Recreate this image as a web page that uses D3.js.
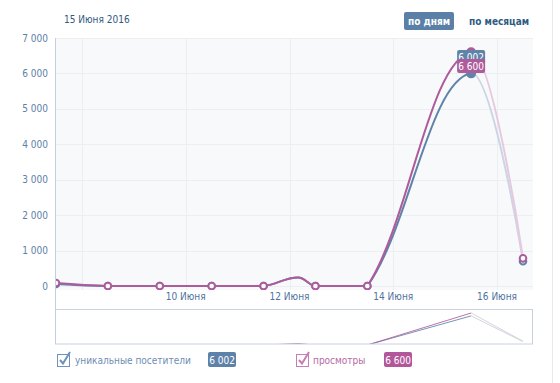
<!DOCTYPE html>
<html><head><meta charset="utf-8">
<script src="https://cdn.jsdelivr.net/npm/d3@7"></script>
<style>
html,body{margin:0;padding:0;background:#fff;}
svg{display:block;font-family:"DejaVu Sans Condensed","DejaVu Sans",sans-serif;}
</style></head>
<body>
<svg id="c" width="560" height="383"></svg>
<script>
// ---- data ----
const dates = ["2016-06-07T12:00","2016-06-08T12:00","2016-06-09T12:00","2016-06-10T12:00","2016-06-11T12:00","2016-06-12T04:00","2016-06-12T12:00","2016-06-13T12:00","2016-06-15T12:00","2016-06-16T12:00"];
const visitors = [60, 0, 0, 0, 0, 240, 0, 0, 6002, 700];
const views    = [85, 0, 0, 0, 0, 240, 0, 0, 6600, 780];
const yTicks = [0,1000,2000,3000,4000,5000,6000,7000];
const xTickDates = ["2016-06-08","2016-06-10","2016-06-12","2016-06-14","2016-06-16"];
const xTickLabels = ["", "10 Июня", "12 Июня", "14 Июня", "16 Июня"];
const headerDate = "15 Июня 2016";
const seriesNames = ["уникальные посетители", "просмотры"];
const hoverIndex = 8;

const parse = s => new Date(s);
const svg = d3.select("#c");
const L = 56, R = 533, T = 38, B = 290;
const x = d3.scaleTime().domain([parse(dates[0]), parse(dates[dates.length-1])]).range([56, 523]);
const y = d3.scaleLinear().domain([0, 7000]).range([286, 38]);
const yNav = d3.scaleLinear().domain([0, 6600]).range([345, 313]);
const fmt = d3.formatLocale({decimal:",", thousands:"\u00a0", grouping:[3], currency:["",""]}).format(",");

const colBlue = "#5f83a9", colPink = "#ae5b9c";
const lightBlue = "#cbd5e3", lightPink = "#e6c9df";

// right border line
svg.append("line").attr("x1",552.5).attr("x2",552.5).attr("y1",0).attr("y2",383).attr("stroke","#e6e9ed");

// header
svg.append("text").attr("x",64).attr("y",23).attr("font-size",10).attr("fill","#2f5a82").text(headerDate);
svg.append("rect").attr("x",404).attr("y",12).attr("width",50).attr("height",18).attr("rx",2).attr("fill","#5b80a7");
svg.append("text").attr("x",429).attr("y",24.5).attr("text-anchor","middle").attr("font-size",10).attr("font-weight","bold").attr("fill","#fff").text("по дням");
svg.append("text").attr("x",469).attr("y",24.5).attr("font-size",10).attr("font-weight","bold").attr("fill","#2f5a82").text("по месяцам");

// plot bg
svg.append("rect").attr("x",L).attr("y",T).attr("width",R-L).attr("height",B-T).attr("fill","#f8f9fb");
const defs = svg.append("defs");
defs.append("clipPath").attr("id","pc").append("rect").attr("x",L).attr("y",0).attr("width",R-L).attr("height",B);
defs.append("clipPath").attr("id","nc").append("rect").attr("x",56).attr("y",310).attr("width",476).attr("height",33.5);

// grid
svg.append("g").selectAll("line").data(yTicks).join("line")
  .attr("x1",L).attr("x2",R).attr("y1",d=>Math.round(y(d))+0.5).attr("y2",d=>Math.round(y(d))+0.5)
  .attr("stroke","#eceef2");
svg.append("g").selectAll("line").data(xTickDates).join("line")
  .attr("x1",d=>Math.round(x(parse(d+"T00:00")))+0.5).attr("x2",d=>Math.round(x(parse(d+"T00:00")))+0.5)
  .attr("y1",T).attr("y2",B).attr("stroke","#eceef2");

// y labels
svg.append("g").selectAll("text").data(yTicks).join("text")
  .attr("x",48).attr("y",d=>y(d)+3.5).attr("text-anchor","end").attr("font-size",10).attr("fill","#5d7fa5")
  .text(d=>fmt(d));
// x labels
svg.append("g").selectAll("text").data(xTickDates).join("text")
  .attr("x",d=>x(parse(d+"T00:00"))).attr("y",300).attr("text-anchor","middle").attr("font-size",10).attr("fill","#4f72a0")
  .text((d,i)=>xTickLabels[i]);

// navigator
svg.append("rect").attr("x",55.5).attr("y",309.5).attr("width",477).attr("height",34.5).attr("fill","#fff").attr("stroke","#c9d0df");
// y axis line
svg.append("line").attr("x1",55.5).attr("x2",55.5).attr("y1",T).attr("y2",344).attr("stroke","#c5cee0");

function splineCtrl(pts, baseY){
  const n = pts.length, sm = 1.5, den = sm + 1;
  return pts.map((p,i)=>{
    if(i===0 || i===n-1) return {l:p, r:p};
    const a = pts[i-1], b = pts[i+1];
    let lx=(sm*p[0]+a[0])/den, ly=(sm*p[1]+a[1])/den, rx=(sm*p[0]+b[0])/den, ry=(sm*p[1]+b[1])/den;
    const c = ((ry-ly)*(rx-p[0]))/(rx-lx) + p[1] - ry;
    ly += c; ry += c;
    ly = Math.min(ly, baseY); ry = Math.min(ry, baseY);
    return {l:[lx,ly], r:[rx,ry]};
  });
}
function segPath(pts, ctrl, from, to){
  let d = `M${pts[from][0]},${pts[from][1]}`;
  for(let i=from+1;i<=to;i++){
    const a = ctrl[i-1].r, b = ctrl[i].l;
    d += `C${a[0]},${a[1]} ${b[0]},${b[1]} ${pts[i][0]},${pts[i][1]}`;
  }
  return d;
}

const plot = svg.append("g").attr("clip-path","url(#pc)");
const nav = svg.append("g").attr("clip-path","url(#nc)");
const series = [{vals:visitors, col:colBlue, light:lightBlue}, {vals:views, col:colPink, light:lightPink}];
const last = dates.length-1;

// navigator lines
series.forEach(s=>{
  const pts = dates.map((d,i)=>[x(parse(d)), yNav(s.vals[i])]);
  const ln = d3.line();
  nav.append("path").attr("d", ln(pts.slice(0, hoverIndex+1))).attr("fill","none").attr("stroke",s.col).attr("stroke-width",1).attr("opacity",0.85);
  nav.append("path").attr("d", ln(pts.slice(hoverIndex))).attr("fill","none").attr("stroke","#d3d5dc").attr("stroke-width",1);
});

// light last segments first
series.forEach(s=>{
  const pts = dates.map((d,i)=>[x(parse(d)), y(s.vals[i])]);
  const ctrl = splineCtrl(pts, y(0));
  plot.append("path").attr("d", segPath(pts, ctrl, hoverIndex, last)).attr("fill","none").attr("stroke",s.light).attr("stroke-width",2);
});
series.forEach(s=>{
  const pts = dates.map((d,i)=>[x(parse(d)), y(s.vals[i])]);
  const ctrl = splineCtrl(pts, y(0));
  plot.append("path").attr("d", segPath(pts, ctrl, 0, hoverIndex)).attr("fill","none").attr("stroke",s.col).attr("stroke-width",2).attr("stroke-linejoin","round");
  const mk = dates.map((d,i)=>({d:parse(d), v:s.vals[i], i})).filter(p=>p.d.getHours()===12);
  plot.append("g").selectAll("circle").data(mk).join("circle")
    .attr("cx",p=>x(p.d)).attr("cy",p=>y(p.v))
    .attr("r",p=>p.i===hoverIndex?4:3.3)
    .attr("fill",p=>p.i===hoverIndex?s.col:"#fff")
    .attr("stroke",s.col).attr("stroke-width",2);
});

// tooltips
const hx = x(parse(dates[hoverIndex]));
[[visitors, colBlue, 50],[views, colPink, 59]].forEach(([vals,col,ty])=>{
  svg.append("rect").attr("x",hx-14).attr("y",ty).attr("width",28).attr("height",14).attr("rx",2).attr("fill",col);
  svg.append("text").attr("x",hx).attr("y",ty+10.5).attr("text-anchor","middle").attr("font-size",10).attr("fill","#fff").text(fmt(vals[hoverIndex]));
});

// legend
function checkbox(x0, col){
  const g = svg.append("g");
  g.append("rect").attr("x",x0+0.5).attr("y",354.5).attr("width",12).attr("height",12).attr("fill","#fff").attr("stroke",col).attr("stroke-width",1);
  g.append("path").attr("d",`M${x0+3},${360} L${x0+6},${363.5} L${x0+13},${352}`).attr("fill","none").attr("stroke",col).attr("stroke-width",2);
}
checkbox(57, "#6f93bb");
svg.append("text").attr("x",75).attr("y",363.5).attr("font-size",10).attr("fill","#6d8db3").text(seriesNames[0]);
svg.append("rect").attr("x",208).attr("y",352).attr("width",28).attr("height",15).attr("rx",2).attr("fill","#5d81a8");
svg.append("text").attr("x",222).attr("y",363.5).attr("text-anchor","middle").attr("font-size",10).attr("fill","#fff").text(fmt(visitors[hoverIndex]));
checkbox(296, "#c67fb5");
svg.append("text").attr("x",313).attr("y",363.5).attr("font-size",10).attr("fill","#b56aa5").text(seriesNames[1]);
svg.append("rect").attr("x",384).attr("y",352).attr("width",28).attr("height",15).attr("rx",2).attr("fill","#b2589a");
svg.append("text").attr("x",398).attr("y",363.5).attr("text-anchor","middle").attr("font-size",10).attr("fill","#fff").text(fmt(views[hoverIndex]));
</script>
</body></html>
